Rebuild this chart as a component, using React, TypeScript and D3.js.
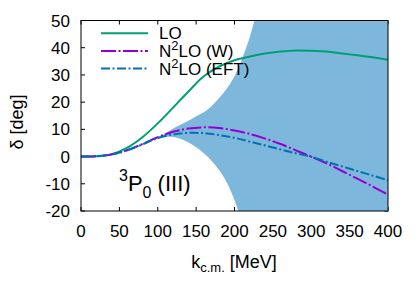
import * as d3 from "d3";

// phase shift data
const kValues = [0, 20, 40, 60, 80, 100, 120, 140, 160, 180, 200, 220, 240, 260, 280, 300, 320, 340, 360, 380, 400];
const loPhase = [0, 0.1, 0.9, 3.2, 7.1, 12.2, 18.0, 23.9, 29.5, 33.1, 35.4, 36.8, 37.9, 38.6, 39.0, 38.9, 38.6, 37.9, 37.2, 36.5, 35.6];
const n2loW = [0, 0.1, 0.8, 2.3, 4.6, 7.1, 9.1, 10.3, 10.75, 10.5, 9.6, 8.3, 6.6, 4.6, 2.3, 0, -2.5, -5.3, -8.1, -11.0, -14.0];
const n2loEFT = [0, 0.1, 0.8, 2.3, 4.5, 6.8, 8.1, 8.7, 8.6, 7.9, 6.9, 5.5, 4.1, 2.6, 1.2, -0.1, -1.9, -3.6, -5.3, -7.0, -8.7];

// uncertainty band
const bandK = [90, 100, 110, 120, 130, 140, 150, 160, 170, 180, 190, 200, 210, 220, 230, 240, 260, 300, 350, 400];
const bandLow = [5.9, 6.7, 7.2, 7.2, 6.5, 5.2, 3.4, 1.2, -1.5, -5, -9.5, -16, -25, -36, -48, -60, -90, -150, -200, -250];
const bandHigh = [5.9, 7.2, 8.6, 10.3, 11.8, 13.2, 14.8, 16.3, 18.5, 21.5, 25, 29.5, 36, 44, 55, 70, 100, 160, 220, 280];

const xTicks = [0, 50, 100, 150, 200, 250, 300, 350, 400];
const yTicks = [-20, -10, 0, 10, 20, 30, 40, 50];

const W = 420;
const H = 294;
const left = 81, right = 388, top = 20.5, bottom = 211;
const font = "'Liberation Sans', Arial, Helvetica, sans-serif";

export default function App() {
  const x = d3.scaleLinear().domain([0, 400]).range([left, right]);
  const y = d3.scaleLinear().domain([-20, 50]).range([bottom, top]);

  const line = d3
    .line<number>()
    .x((_, i) => x(kValues[i]))
    .y((d) => y(d))
    .curve(d3.curveCatmullRom.alpha(0.5));

  const area = d3
    .area<number>()
    .x((k) => x(k))
    .y0((_, i) => y(bandLow[i]))
    .y1((_, i) => y(bandHigh[i]))
    .curve(d3.curveCatmullRom.alpha(0.5));

  const series = [
    { name: "LO", vals: loPhase, color: "#009e73", dash: "none" },
    { name: "W", vals: n2loW, color: "#9400d3", dash: "15,2.5,2,2.5" },
    { name: "EFT", vals: n2loEFT, color: "#0072b2", dash: "9,2.5,2,2.5" },
  ];

  const tick = 4;

  return (
    <svg width={W} height={H} style={{ position: "absolute", left: 0, top: 0, background: "#fff" }} fontFamily={font}>
      <defs>
        <clipPath id="plot">
          <rect x={left} y={top} width={right - left} height={bottom - top} />
        </clipPath>
      </defs>

      {/* ticks (inside, mirrored) */}
      <g stroke="#000" strokeWidth={1}>
        {xTicks.map((t) => (
          <g key={"x" + t}>
            <line x1={x(t)} x2={x(t)} y1={bottom} y2={bottom - tick} />
            <line x1={x(t)} x2={x(t)} y1={top} y2={top + tick} />
          </g>
        ))}
        {yTicks.map((t) => (
          <g key={"y" + t}>
            <line x1={left} x2={left + tick} y1={y(t)} y2={y(t)} />
            <line x1={right} x2={right - tick} y1={y(t)} y2={y(t)} />
          </g>
        ))}
      </g>

      <g clipPath="url(#plot)">
        <path d={area(bandK) ?? ""} fill="#7db8dc" stroke="none" />
        {series.map((s) => (
          <path
            key={s.name}
            d={line(s.vals) ?? ""}
            fill="none"
            stroke={s.color}
            strokeWidth={2}
            strokeDasharray={s.dash}
          />
        ))}
      </g>

      <rect x={left} y={top} width={right - left} height={bottom - top} fill="none" stroke="#000" strokeWidth={1} />

      {/* tick labels */}
      <g fontSize={17} fill="#000">
        {xTicks.map((t) => (
          <text key={"xl" + t} x={x(t)} y={236.5} textAnchor="middle">
            {t}
          </text>
        ))}
        {yTicks.map((t) => (
          <text key={"yl" + t} x={70} y={y(t) + 6} textAnchor="end">
            {t}
          </text>
        ))}
      </g>

      {/* axis titles */}
      <text x={234} y={268} textAnchor="middle" fontSize={18}>
        k<tspan fontSize={13} dy={4}>c.m.</tspan>
        <tspan dy={-4}> [MeV]</tspan>
      </text>
      <text transform="translate(23,122) rotate(-90)" textAnchor="middle" fontSize={18}>
        δ [deg]
      </text>

      {/* legend */}
      <g fontSize={17}>
        {series.map((s, i) => {
          const ly = 33.3 + i * 17.6;
          return (
            <g key={"lg" + s.name}>
              <line x1={101} x2={148} y1={ly} y2={ly} stroke={s.color} strokeWidth={2} strokeDasharray={s.dash} />
              <text x={159} y={ly + 6}>
                {i === 0 ? (
                  "LO"
                ) : (
                  <>
                    N<tspan fontSize={13} dy={-7}>2</tspan>
                    <tspan dy={7}>LO {i === 1 ? "(W)" : "(EFT)"}</tspan>
                  </>
                )}
              </text>
            </g>
          );
        })}
      </g>

      {/* partial wave label */}
      <text x={119} y={190.5} fontSize={22}>
        <tspan fontSize={16} dy={-10}>3</tspan>
        <tspan dy={10}>P</tspan>
        <tspan fontSize={16} dy={7}>0</tspan>
        <tspan dy={-7}> (III)</tspan>
      </text>
    </svg>
  );
}
